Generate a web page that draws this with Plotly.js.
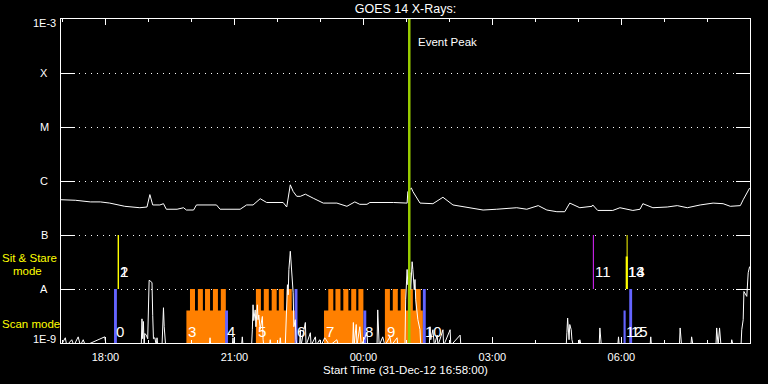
<!DOCTYPE html>
<html><head><meta charset="utf-8">
<script src="https://cdn.plot.ly/plotly-3.0.1.min.js"></script>
<style>html,body{margin:0;padding:0;background:#000;}</style>
</head><body><div id="chart" style="width:768px;height:384px;"></div>
<script>
// ---- GOES 14 long channel (1-8 A), W/m^2 ----
const longTimes = ['16:58','17:11','17:18','17:39','17:53','18:06','18:27','18:48','18:58','19:02','19:06','19:16','19:21','19:25','19:40','19:49','19:53','20:03','20:07','20:35','20:40','21:08','21:17','21:26','21:36','21:45','22:08','22:13','22:18','22:22','22:27','22:32','22:39','22:50','23:04','23:23','23:37','23:48','23:55','00:05','00:09','00:42','01:01','01:02','01:07','01:09','01:19','01:37','01:51','02:05','02:25','02:47','03:06','03:34','03:48','04:04','04:16','04:30','04:41','04:48','05:02','05:19','05:20','05:27','05:48','05:58','06:16','06:26','06:30','06:44','07:04','07:18','07:32','07:50','08:08','08:22','08:32','08:46','08:50','08:55','08:59'];
const longFlux = [4.5e-7,4.5e-7,4.4e-7,4.1e-7,4.1e-7,3.9e-7,3.4e-7,3.2e-7,3.3e-7,5.6e-7,3.6e-7,3.6e-7,3.8e-7,3.0e-7,3.0e-7,3.2e-7,2.9e-7,2.9e-7,3.6e-7,3.6e-7,3.0e-7,3.0e-7,3.6e-7,3.6e-7,4.7e-7,4.0e-7,4.0e-7,3.3e-7,8.5e-7,6.4e-7,5.2e-7,5.2e-7,5.7e-7,4.8e-7,3.9e-7,3.9e-7,3.4e-7,4.1e-7,3.7e-7,3.7e-7,4.0e-7,4.0e-7,3.9e-7,6.4e-7,7.4e-7,6.4e-7,3.9e-7,3.8e-7,5.0e-7,3.6e-7,3.2e-7,2.9e-7,3.0e-7,3.2e-7,3.0e-7,3.5e-7,2.9e-7,2.7e-7,2.7e-7,3.9e-7,3.2e-7,3.4e-7,3.6e-7,2.85e-7,2.85e-7,3.2e-7,2.85e-7,3.0e-7,3.8e-7,3.2e-7,3.3e-7,3.5e-7,3.2e-7,3.6e-7,3.9e-7,3.8e-7,3.4e-7,3.5e-7,4.5e-7,6.0e-7,7.4e-7];

// ---- GOES 14 short channel (0.5-4 A), W/m^2 (9e-10 = below plot floor) ----
const shortTimes = ['16:58','17:04','17:06','17:13','17:16','17:22','17:25','17:29','17:32','17:59','18:01','18:48','18:50','18:51','18:52','18:53','18:54','18:55','18:57','18:59','19:00','19:01','19:03','19:05','19:06','19:07','19:09','19:11','19:12','19:13','19:19','19:20','19:21','19:22','19:23','19:24','20:25','20:26','20:27','20:57','20:58','20:59','21:10','21:11','21:12','21:24','21:25','21:26','21:27','21:29','21:30','21:32','21:33','21:34','21:36','21:39','21:40','21:41','21:49','21:50','21:51','22:03','22:04','22:05','22:11','22:12','22:14','22:15','22:16','22:18','22:19','22:20','22:22','22:23','22:25','22:26','22:27','22:31','22:32','22:33','22:36','22:39','22:40','22:46','22:47','22:53','22:54','22:59','23:01','23:06','23:08','23:13','23:23','23:25','23:45','23:46','23:47','23:50','23:51','23:55','23:57','00:05','00:06','00:19','00:20','00:22','00:27','00:30','00:37','00:39','00:47','00:48','00:58','00:59','01:01','01:02','01:04','01:05','01:06','01:08','01:09','01:11','01:12','01:13','01:16','01:19','01:20','01:32','01:33','01:34','01:37','01:39','01:43','01:44','01:48','01:51','01:52','02:01','02:02','02:15','02:16','04:43','04:44','04:45','04:47','04:48','04:50','04:51','04:53','05:01','05:02','05:04','05:29','05:30','05:32','05:55','05:56','05:57','06:40','06:41','06:42','07:21','07:22','07:24','07:37','07:38','07:40','08:12','08:13','08:15','08:17','08:19','08:33','08:34','08:36','08:47','08:48','08:50','08:51','08:55','08:57','08:59'];
const shortFlux = [9e-10,1.25e-9,9e-10,1.15e-9,9e-10,1.3e-9,9e-10,1.15e-9,9e-10,1.3e-9,9e-10,9e-10,9e-10,2.8e-9,1.2e-9,2.5e-9,9e-10,1.5e-9,1.4e-9,1.2e-9,3.2e-9,1.45e-8,1.4e-8,1.3e-8,3.2e-9,1.2e-9,1.25e-9,9e-10,1.25e-9,9e-10,9e-10,2.9e-9,4.5e-9,2.0e-9,1.2e-9,9e-10,9e-10,1.25e-9,9e-10,9e-10,1.25e-9,9e-10,9e-10,1.3e-9,9e-10,9e-10,1.76e-9,5.1e-9,2.6e-9,4.1e-9,2.0e-9,5.1e-9,2.7e-9,3.3e-9,1.8e-9,3.1e-9,1.15e-9,9e-10,9e-10,1.15e-9,9e-10,9e-10,1.25e-9,9e-10,9e-10,2.7e-9,1.2e-8,7.8e-9,2.3e-8,5.0e-8,3.1e-8,1.5e-8,8.5e-9,2.0e-9,2.7e-9,1.15e-9,9e-10,9e-10,1.76e-9,9e-10,1.42e-9,2.4e-9,9e-10,1.55e-9,9e-10,1.3e-9,9e-10,1.15e-9,9e-10,1.25e-9,1.15e-9,9e-10,1.15e-9,9e-10,9e-10,2.4e-9,9e-10,2.2e-9,9e-10,2.0e-9,9e-10,1.55e-9,9e-10,9e-10,4.1e-9,9e-10,1.3e-9,9e-10,1.3e-9,9e-10,1.25e-9,9e-10,9e-10,6.3e-9,2.3e-8,1.2e-8,1.84e-8,2.0e-8,9.7e-9,3.2e-8,2.3e-8,9.7e-9,1.5e-8,6.3e-9,2.7e-9,1.76e-9,9e-10,9e-10,2.0e-9,1.15e-9,1.76e-9,9e-10,1.4e-9,9e-10,1.3e-9,1.76e-9,9e-10,1.76e-9,9e-10,1.4e-9,9e-10,9e-10,1.55e-9,2.9e-9,1.15e-9,2.2e-9,1.76e-9,1.15e-9,9e-10,9e-10,1.15e-9,9e-10,9e-10,1.9e-9,9e-10,9e-10,1.3e-9,9e-10,9e-10,1.3e-9,9e-10,9e-10,1.9e-9,9e-10,9e-10,1.3e-9,9e-10,9e-10,1.9e-9,9e-10,1.9e-9,9e-10,9e-10,1.15e-9,9e-10,9e-10,1.76e-9,2.7e-9,9.0e-9,7.3e-9,2.0e-8,2.6e-8];

// ---- Scan mode rasters (orange) ----
const scanStart = ['19:53','21:30','23:05','00:30'];
const scanEnd   = ['20:48','22:25','00:00','01:23'];
const scanTeeth = [
  ['19:58','20:09','20:19','20:30','20:41'],
  ['21:30','21:41','21:52','22:02','22:13'],
  ['23:11','23:21','23:32','23:43','23:53'],
  ['00:30','00:41','00:52','01:02','01:13']
];
const toothMinutes = 7;
const scanBase = 4e-9, scanTop = 1e-8, floorFlux = 1e-9;

// ---- Scan mode markers (blue) ----
const markStart = ['18:12','20:47','22:24','00:00','01:23','06:03','06:11'];
const markEnd   = ['18:16','20:51','22:28','00:04','01:27','06:06','06:15'];
const markTop   = [1e-8, 4e-9, 1e-8, 4e-9, 1e-8, 4e-9, 1e-8];

// ---- Sit & stare (yellow) ----
const sitStart = ['18:17','06:06'];
const sitEnd   = ['18:19','06:09'];
const sitTop   = [1e-7, 4e-8];
const sitLineTime = '06:08';
const otherLineTime = '05:21';
const modeLow = 1e-8, modeHigh = 1e-7;

// ---- Event peak ----
const peakTime = '01:04';

// ---- Event numbers ----
const labelText = ['0','1','2','3','4','5','6','7','8','9','10','11','12','13','14','15'];
const labelTime = ['18:12','18:17','18:17','19:53','20:47','21:30','22:24','23:05','00:00','00:30','01:23','05:21','06:03','06:06','06:06','06:11'];
const labelRow  = ['scan','sit','sit','scan','scan','scan','scan','scan','scan','scan','scan','sit','scan','sit','sit','scan'];

// ---- Axis ticks ----
const xStart = '16:58', xEnd = '09:00';
const yTickVals = [1e-9,1e-8,1e-7,1e-6,1e-5,1e-4,1e-3];
const yTickText = ['1E-9','A','B','C','M','X','1E-3'];

const DAY1 = Date.UTC(2012,11,31), DAY2 = Date.UTC(2013,0,1);
function ms(hm){ const p = hm.split(':').map(Number); return (p[0] >= 12 ? DAY1 : DAY2) + (p[0]*60 + p[1])*60000; }
function ds(v){ return new Date(v).toISOString().replace('T',' ').slice(0,19); }
function t(hm){ return ds(ms(hm)); }

function rects(starts, ends, lows, tops){
  const x=[], y=[];
  for (let i=0;i<starts.length;i++){
    const s=t(starts[i]), e=t(ends[i]);
    x.push(s,s,e,e,null); y.push(lows, tops[i], tops[i], lows, null);
  }
  return {x,y};
}
function scanPolys(){
  const x=[], y=[];
  for (let i=0;i<scanStart.length;i++){
    const s=ms(scanStart[i]), e=ms(scanEnd[i]);
    x.push(s,s); y.push(floorFlux, scanBase);
    for (const tt of scanTeeth[i]){
      const a=ms(tt), b=a+toothMinutes*60000;
      x.push(a,a,b,b); y.push(scanBase, scanTop, scanTop, scanBase);
    }
    x.push(e,e); y.push(scanBase, floorFlux);
    x.push(null); y.push(null);
  }
  return {x:x.map(v=>v===null?null:ds(v)), y};
}

const F = 'Liberation Sans, Arial, sans-serif';
const W = '#ffffff';
const sp = scanPolys();
const bl = rects(markStart, markEnd, floorFlux, markTop);
const ye = rects(sitStart, sitEnd, modeLow, sitTop);

const traces = [
  {x:sp.x, y:sp.y, mode:'lines', fill:'toself', fillcolor:'#ff8000', line:{width:0,color:'#ff8000'}, hoverinfo:'skip'},
  {x:bl.x, y:bl.y, mode:'lines', fill:'toself', fillcolor:'#6464ff', line:{width:0,color:'#6464ff'}, hoverinfo:'skip'},
  {x:ye.x, y:ye.y, mode:'lines', fill:'toself', fillcolor:'#ffff00', line:{width:0,color:'#ffff00'}, hoverinfo:'skip'},
  {x:[t(otherLineTime),t(otherLineTime)], y:[modeLow,modeHigh], mode:'lines', line:{width:1.2,color:'#c020e0'}},
  {x:[t(sitLineTime),t(sitLineTime)], y:[modeLow,modeHigh], mode:'lines', line:{width:1,color:'#ffff00'}},
  {x:longTimes.map(t), y:longFlux, mode:'lines', line:{width:1,color:W}},
  {x:shortTimes.map(t), y:shortFlux, mode:'lines', line:{width:1,color:W}},
  {x:[t(peakTime),t(peakTime)], y:[1e-9,1e-3], mode:'lines', line:{width:2.5,color:'#99cc00'}}
];

const rowY = {scan:-8.79, sit:-7.68};
const annotations = labelText.map((s,i)=>({
  text:s, x:t(labelTime[i]), xref:'x', y:rowY[labelRow[i]], yref:'y',
  xanchor:'left', yanchor:'middle', showarrow:false, xshift:0,
  font:{family:F,size:15,color:W}
}));
// y tick labels, centred in the left margin (as in the reference)
yTickVals.forEach((v,i)=>{
  const last = yTickVals.length-1;
  annotations.push({text:yTickText[i], x:0, xref:'paper', y:Math.log10(v), yref:'y',
    xanchor:'center', yanchor:'middle', showarrow:false, xshift:-17,
    yshift: i===0 ? 4 : (i===last ? -4 : 0), borderpad:0,
    font:{family:F,size:11,color:W}});
});
annotations.push(
  {text:'Event Peak', x:t(peakTime), xref:'x', y:-3.43, yref:'y', xanchor:'left', yanchor:'middle', showarrow:false, xshift:7, font:{family:F,size:11.5,color:W}},
  {text:'Sit & Stare', x:0, xref:'paper', y:-7.42, yref:'y', xanchor:'left', yanchor:'middle', showarrow:false, xshift:-60, borderpad:0, font:{family:F,size:11.5,color:'#ffff00'}},
  {text:'mode', x:0, xref:'paper', y:-7.67, yref:'y', xanchor:'left', yanchor:'middle', showarrow:false, xshift:-49, borderpad:0, font:{family:F,size:11.5,color:'#ffff00'}},
  {text:'Scan mode', x:0, xref:'paper', y:-8.64, yref:'y', xanchor:'left', yanchor:'middle', showarrow:false, xshift:-60, borderpad:0, font:{family:F,size:11.5,color:'#ffff00'}}
);

const layout = {
  width:768, height:384,
  paper_bgcolor:'#000', plot_bgcolor:'#000',
  margin:{l:61, r:18, t:19, b:41},
  showlegend:false,
  title:{text:'GOES 14 X-Rays:', font:{family:F,size:12.5,color:W}, x:0.5, xref:'paper', xanchor:'center', y:1-9/384, yref:'container', yanchor:'middle'},
  xaxis:{
    type:'date', range:[t(xStart), ds(ms(xEnd)-30000)],
    tick0:t('18:00'), dtick:3*3600000, tickformat:'%H:%M',
    ticks:'inside', ticklen:6, tickwidth:1, tickcolor:W,
    minor:{dtick:3600000, tick0:t('18:00'), ticks:'inside', ticklen:3, tickcolor:W, showgrid:false},
    showline:true, linecolor:W, linewidth:1, mirror:'ticks',
    showgrid:false, zeroline:false,
    tickfont:{family:F,size:11,color:W}, ticklabelstandoff:4,
    title:{text:'Start Time (31-Dec-12 16:58:00)', font:{family:F,size:11.5,color:W}, standoff:3}
  },
  yaxis:{
    type:'log', range:[-9,-3],
    tickmode:'array', tickvals:yTickVals, showticklabels:false,
    ticks:'inside', ticklen:14, tickwidth:1, tickcolor:W,
    showline:true, linecolor:W, linewidth:1, mirror:'ticks',
    showgrid:true, gridcolor:W, griddash:'1px,5px', gridwidth:1,
    zeroline:false
  },
  annotations
};

Plotly.newPlot('chart', traces, layout, {staticPlot:true, displayModeBar:false});
</script>
</body></html>
